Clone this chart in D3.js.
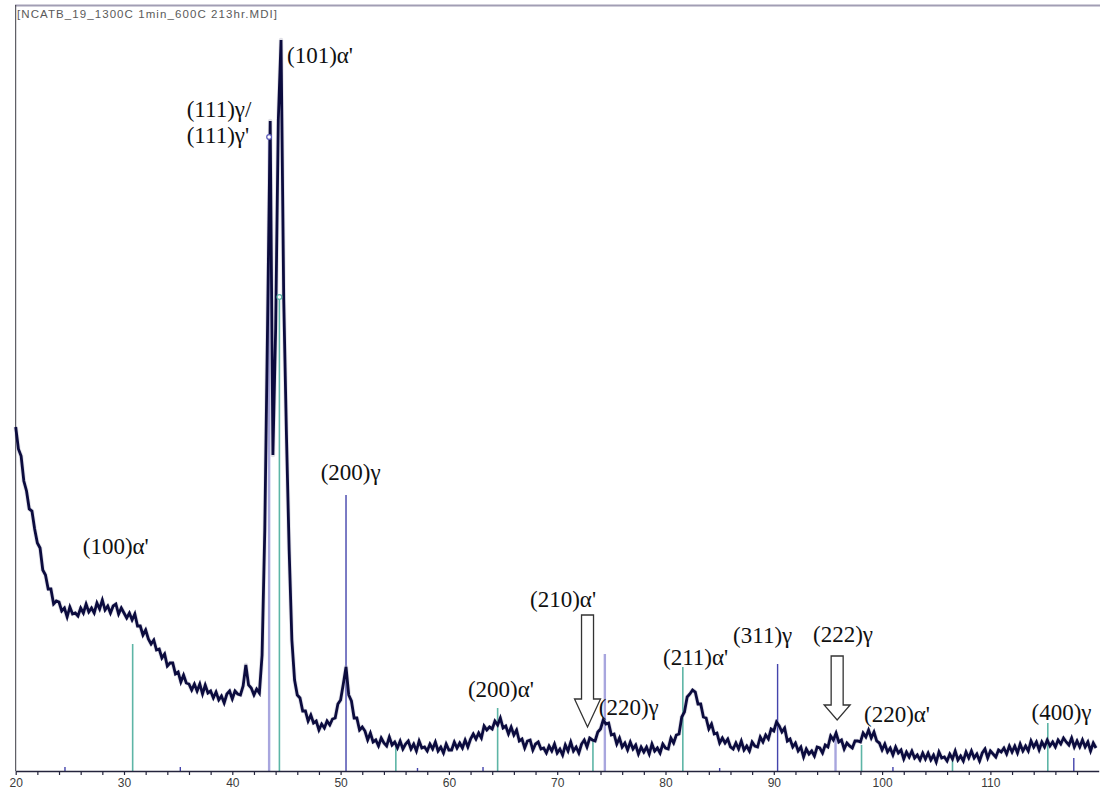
<!DOCTYPE html>
<html>
<head>
<meta charset="utf-8">
<script src="https://cdn.jsdelivr.net/npm/d3@7"></script>
<style>
  html, body { margin: 0; padding: 0; background: #ffffff; }
  svg { display: block; }
</style>
</head>
<body>
<svg id="chart" width="1100" height="789"></svg>
<script>
// ---- Scan data: 2θ from 20° in 0.25° steps, intensity in arbitrary units ----
const scanStart = 20;
const scanStep = 0.25;
const counts = [
  344, 322, 315, 290, 280, 262, 260, 242, 228, 223, 201, 196, 182,
  182, 167, 170, 169, 160, 163, 154, 164, 157, 158, 155, 163, 158, 167,
  159, 163, 158, 168, 162, 171, 161, 165, 158, 165, 167, 157, 163, 158,
  153, 158, 151, 157, 145, 145, 136, 141, 132, 127,
  131, 121, 122, 113, 117, 105, 108, 108, 97, 99,
  89, 96, 88, 87, 81, 87, 80, 87, 77, 86,
  78, 80, 73, 79, 71, 75, 68, 77, 80, 72,
  80, 77, 76, 85, 106, 86, 83, 76, 82, 78,
  116, 241, 441, 650, 316, 441, 651, 731, 471, 336, 221, 131, 91, 76,
  73, 60, 60, 50, 56, 48, 50, 41, 47, 43, 50, 46,
  52, 53, 67, 71, 87, 104, 76, 70, 53, 53, 41, 44,
  40, 31, 38, 29, 31, 25, 33, 28, 25, 34, 26, 29, 23, 30, 22, 27,
  30, 22, 27, 20, 30, 23, 24, 20, 27, 22, 29, 20, 24, 18, 27, 21,
  21, 29, 23, 28, 23, 31, 24, 32, 37, 32, 38, 33, 45, 41, 44, 42,
  50, 46, 53, 43, 45, 37, 44, 36, 41, 30, 32, 23, 30, 31, 21, 27,
  29, 22, 23, 18, 25, 20, 27, 18, 22, 16, 26, 20, 29, 20, 24, 18, 27, 31, 24, 33,
  31, 30, 39, 42, 51, 47, 48, 36, 37, 27, 33, 24, 28, 21, 29, 22, 26, 17, 24, 19,
  24, 17, 27, 20, 23, 18, 27, 23, 22, 33, 28, 36, 37, 54, 59, 74,
  77, 81, 79, 67, 67, 54, 53, 42, 47, 37, 38, 28, 33, 28, 32, 24,
  22, 28, 22, 30, 21, 25, 20, 29, 25, 24, 34, 29, 36, 32, 42, 40,
  49, 45, 39, 43, 30, 32, 24, 28, 20, 24, 14, 22, 17, 20, 15, 24,
  23, 18, 26, 24, 35, 31, 38, 29, 31, 22, 28, 25,
  23, 30, 30, 29, 38, 34, 41, 33, 39, 30, 28, 21,
  27, 19, 23, 16, 24, 18, 21, 12, 19, 14, 20, 13, 16, 11, 18, 12,
  18, 11, 16, 9, 19, 13, 14, 10, 17, 12, 20, 11,
  15, 10, 19, 13,
  20, 13, 17, 10, 18, 22, 13, 20,
  17, 14, 21, 19, 23, 17, 25, 19,
  25, 18, 27, 20, 25, 20, 30, 24,
  29, 21, 29, 24, 31, 25, 29, 24,
  31, 27, 33, 29, 26, 33, 24, 30,
  24, 31, 24, 29, 20, 28, 23
];

// ---- Reference patterns (stick positions in 2θ, relative heights) ----
const alphaPrimePos = [30.8, 44.35, 55.1, 64.5, 73.3, 81.6, 98.1, 106.5, 115.3];
const alphaPrimeInt = [127, 474, 29, 63, 32, 104, 26, 11, 48];
const gammaPos = [24.55, 35.2, 50.5, 57.1, 63.15, 85.0, 90.35, 101.0, 117.7];
const gammaInt = [4, 4, 276, 3, 4, 3, 107, 4, 13];
const gammaPrimePos = [43.4, 74.4, 95.7];
const gammaPrimeInt = [634, 117, 35];
// Sticks carrying a circle head
const circledPos = [43.4, 44.35];
const circledInt = [634, 474];

// ---- Axis ----
const xDomain = [20, 120];
const yDomain = [0, 766];
const minorTicks = d3.range(20, 120, 2);
const tickLabels = ["20", "30", "40", "50", "60", "70", "80", "90", "100", "110"];

// ---- Peak annotations (left edge in 2θ, baseline in intensity units) ----
const peakLabels = ["(101)α'", "(111)γ/", "(111)γ'", "(200)γ", "(100)α'", "(210)α'",
                    "(200)α'", "(220)γ", "(211)α'", "(311)γ", "(222)γ", "(220)α'", "(400)γ"];
const peakLabelPos = [45.05, 35.79, 35.79, 48.16, 26.19, 67.49, 61.76, 73.84, 79.77, 86.24, 93.62, 98.33, 113.8];
const peakLabelInt = [708, 654, 628, 291, 217, 164, 74, 56, 106, 128, 129, 49, 51];

// Hollow arrows pointing at weak reflections
const arrowPos = [72.8, 95.85];
const arrowTipInt = [44, 51];
const arrowTopInt = [156, 115];

const fileTitle = "[NCATB_19_1300C 1min_600C 213hr.MDI]";

// ---------------------------------------------------------------
const svg = d3.select("#chart");
const x = d3.scaleLinear().domain(xDomain).range([15.7, 1098.7]);
const y = d3.scaleLinear().domain(yDomain).range([771, 5]);

// frame: top rule and left edge
svg.append("line")
  .attr("x1", 15).attr("x2", 1100).attr("y1", 5.5).attr("y2", 5.5)
  .attr("stroke", "#a29eb4").attr("stroke-width", 2);
svg.append("line")
  .attr("x1", 15.7).attr("x2", 15.7).attr("y1", 5).attr("y2", 771)
  .attr("stroke", "#3c3c44").attr("stroke-width", 1);

svg.append("text")
  .attr("x", 17).attr("y", 17.5)
  .attr("font-family", "Liberation Sans, Arial, sans-serif")
  .attr("font-size", 11.5)
  .attr("fill", "#5a5a5a")
  .attr("textLength", 260)
  .attr("lengthAdjust", "spacing")
  .text(fileTitle);

// reference sticks
function drawSticks(pos, ints, color, width) {
  svg.append("g").selectAll("line")
    .data(pos.map((p, i) => ({ p, v: ints[i] })))
    .join("line")
    .attr("x1", d => x(d.p)).attr("x2", d => x(d.p))
    .attr("y1", y(0)).attr("y2", d => y(d.v))
    .attr("stroke", color).attr("stroke-width", width);
}
drawSticks(alphaPrimePos, alphaPrimeInt, "#5db5a6", 1.6);
drawSticks(gammaPrimePos, gammaPrimeInt, "#a8a6de", 2.4);
drawSticks(gammaPos, gammaInt, "#4444ac", 1.4);

// measured pattern: faint halo under a dark core
const scan = counts.map((c, i) => ({ t: scanStart + i * scanStep, c }));
const scanLine = d3.line().x(d => x(d.t)).y(d => y(d.c));
svg.append("path")
  .datum(scan)
  .attr("fill", "none")
  .attr("stroke", "#9a9ab2")
  .attr("stroke-opacity", 0.3)
  .attr("stroke-width", 4.5)
  .attr("stroke-linejoin", "round")
  .attr("d", scanLine);
svg.append("path")
  .datum(scan)
  .attr("fill", "none")
  .attr("stroke", "#0b0b3e")
  .attr("stroke-width", 2.8)
  .attr("stroke-linejoin", "miter")
  .attr("d", scanLine);

// circle heads
svg.append("g").selectAll("circle")
  .data(circledPos.map((p, i) => ({ p, v: circledInt[i] })))
  .join("circle")
  .attr("cx", d => x(d.p)).attr("cy", d => y(d.v)).attr("r", 2.4)
  .attr("fill", "#ffffff")
  .attr("stroke", (d, i) => i === 0 ? "#5a58b8" : "#5db5a6")
  .attr("stroke-width", 1.2);

// bottom axis
const axis = d3.axisBottom(x)
  .tickValues(minorTicks)
  .tickSize(4)
  .tickSizeOuter(0)
  .tickFormat(d => (d % 10 === 0 ? tickLabels[(d - 20) / 10] : ""));
const gx = svg.append("g").attr("transform", `translate(0,${y(0)})`).call(axis);
gx.select(".domain").attr("stroke", "#24243c").attr("stroke-width", 1.4);
gx.selectAll(".tick line").attr("stroke", "#24243c").attr("stroke-width", 1.2);
gx.selectAll(".tick text")
  .attr("font-family", "Liberation Sans, Arial, sans-serif")
  .attr("font-size", 12)
  .attr("fill", "#3a3a3a");

// peak labels
svg.append("g").selectAll("text")
  .data(peakLabels.map((t, i) => ({ t, p: peakLabelPos[i], v: peakLabelInt[i] })))
  .join("text")
  .attr("x", d => x(d.p)).attr("y", d => y(d.v))
  .attr("font-family", "Liberation Serif, Times New Roman, serif")
  .attr("font-size", 23)
  .attr("fill", "#111")
  .text(d => d.t);

// hollow arrows
const headLen = [28, 15];
svg.append("g").selectAll("path")
  .data(arrowPos.map((p, i) => ({ p, tip: arrowTipInt[i], top: arrowTopInt[i], h: headLen[i] })))
  .join("path")
  .attr("d", d => {
    const tx = x(d.p), ty = y(d.tip), t0 = y(d.top), hb = ty - d.h;
    return `M${tx - 6},${t0} L${tx + 6},${t0} L${tx + 6},${hb} L${tx + 13},${hb} ` +
           `L${tx},${ty} L${tx - 13},${hb} L${tx - 6},${hb} Z`;
  })
  .attr("fill", "#ffffff")
  .attr("stroke", "#333")
  .attr("stroke-width", 1.3);
</script>
</body>
</html>
